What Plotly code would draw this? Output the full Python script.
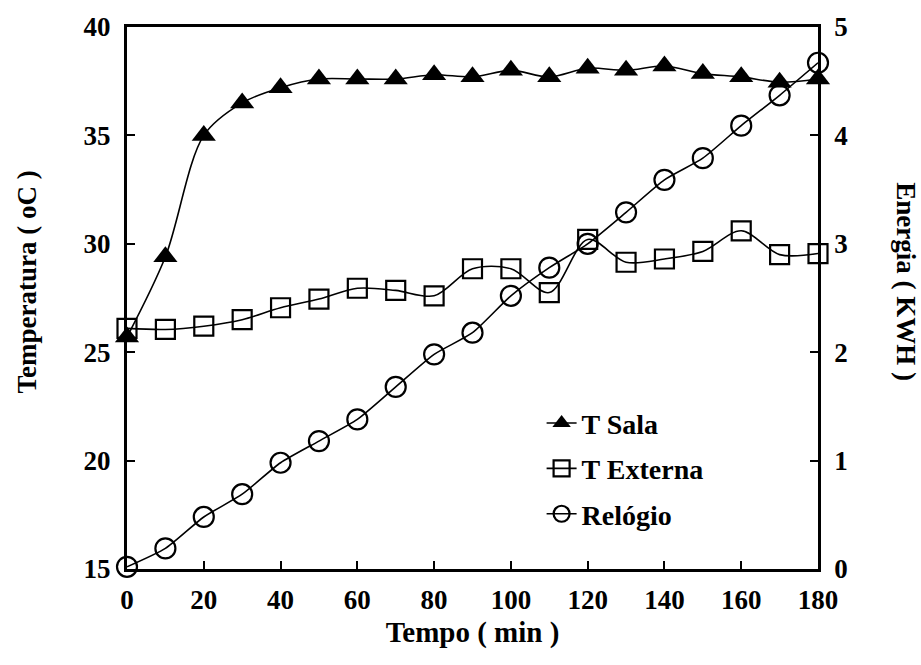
import plotly.graph_objects as go

tempo = [0, 10, 20, 30, 40, 50, 60, 70, 80, 90, 100, 110, 120, 130, 140, 150, 160, 170, 180]
t_sala = [25.7, 29.4, 35.0, 36.5, 37.2, 37.6, 37.6, 37.6, 37.8, 37.7, 38.0, 37.7, 38.1, 38.0, 38.2, 37.85, 37.7, 37.45, 37.6]
t_externa = [26.1, 26.05, 26.2, 26.5, 27.05, 27.45, 27.95, 27.85, 27.6, 28.85, 28.85, 27.75, 30.2, 29.15, 29.3, 29.65, 30.6, 29.5, 29.55]
relogio = [0.02, 0.19, 0.48, 0.69, 0.98, 1.18, 1.38, 1.68, 1.98, 2.18, 2.52, 2.78, 3.0, 3.29, 3.59, 3.79, 4.09, 4.37, 4.67]

xticks = [0, 20, 40, 60, 80, 100, 120, 140, 160, 180]
yticks = [15, 20, 25, 30, 35, 40]
y2ticks = [0, 1, 2, 3, 4, 5]

FONT = dict(family="Liberation Serif", size=27, color="black")
FONT_T = dict(family="Liberation Serif", size=29, color="black")
FONT_L = dict(family="Liberation Serif", size=28, color="black")

fig = go.Figure()
fig.add_trace(go.Scatter(
    x=tempo, y=t_sala, name="<b>T Sala</b>", mode="lines+markers", legendgroup="a",
    line=dict(color="black", width=1.6, shape="spline", smoothing=0.9),
    marker=dict(symbol="triangle-up", size=21, color="black"),
    cliponaxis=False))
fig.add_trace(go.Scatter(
    x=tempo, y=t_externa, name="<b>T Externa</b>", mode="lines+markers", legendgroup="b",
    line=dict(color="black", width=1.6, shape="spline", smoothing=0.9),
    marker=dict(symbol="square-open", size=19, color="black", line=dict(width=2.2)),
    cliponaxis=False))
fig.add_trace(go.Scatter(
    x=tempo, y=relogio, name="<b>Relógio</b>", mode="lines+markers", legendgroup="c",
    yaxis="y2",
    line=dict(color="black", width=1.6, shape="spline", smoothing=0.6),
    marker=dict(symbol="circle-open", size=20, color="black", line=dict(width=2.2)),
    cliponaxis=False))

fig.update_layout(
    width=921, height=665,
    margin=dict(l=127, r=103, t=23, b=96),
    paper_bgcolor="white", plot_bgcolor="white",
    font=FONT,
    showlegend=True,
    legend=dict(x=0.60, y=0.315, xanchor="left", yanchor="top",
                bgcolor="rgba(0,0,0,0)", font=FONT_L,
                tracegroupgap=6, itemwidth=30),
    xaxis=dict(range=[0, 180], tickvals=xticks, ticktext=["<b>%d</b>" % v for v in xticks],
               ticks="inside", ticklen=8, tickwidth=2,
               tickcolor="black", showline=True, linecolor="black", linewidth=3,
               mirror=True, showgrid=False, zeroline=False, ticklabelstandoff=5,
               tickfont=FONT,
               title=dict(text="<b>Tempo ( min )</b>", font=FONT_T, standoff=8)),
    yaxis=dict(range=[15, 40], tickvals=yticks, ticktext=["<b>%d</b>" % v for v in yticks],
               ticks="inside", ticklen=8, tickwidth=2,
               tickcolor="black", showline=True, linecolor="black", linewidth=3,
               showgrid=False, zeroline=False, ticklabelstandoff=8, tickfont=FONT),
    yaxis2=dict(range=[0, 5], tickvals=y2ticks, ticktext=["<b>%d</b>" % v for v in y2ticks],
                ticks="inside", ticklen=8, tickwidth=2,
                tickcolor="black", showline=True, linecolor="black", linewidth=2.5,
                overlaying="y", side="right", showgrid=False, zeroline=False,
                ticklabelstandoff=8, tickfont=FONT),
)

fig.add_annotation(text="<b>Temperatura ( oC )</b>", textangle=-90, xref="paper", yref="paper",
                   x=-0.145, y=0.53, xanchor="center", yanchor="middle", showarrow=False,
                   font=FONT)
fig.add_annotation(text="<b>Energia ( KWH )</b>", textangle=90, xref="paper", yref="paper",
                   x=1.128, y=0.53, xanchor="center", yanchor="middle", showarrow=False,
                   font=FONT)

fig.write_html("out.html")
